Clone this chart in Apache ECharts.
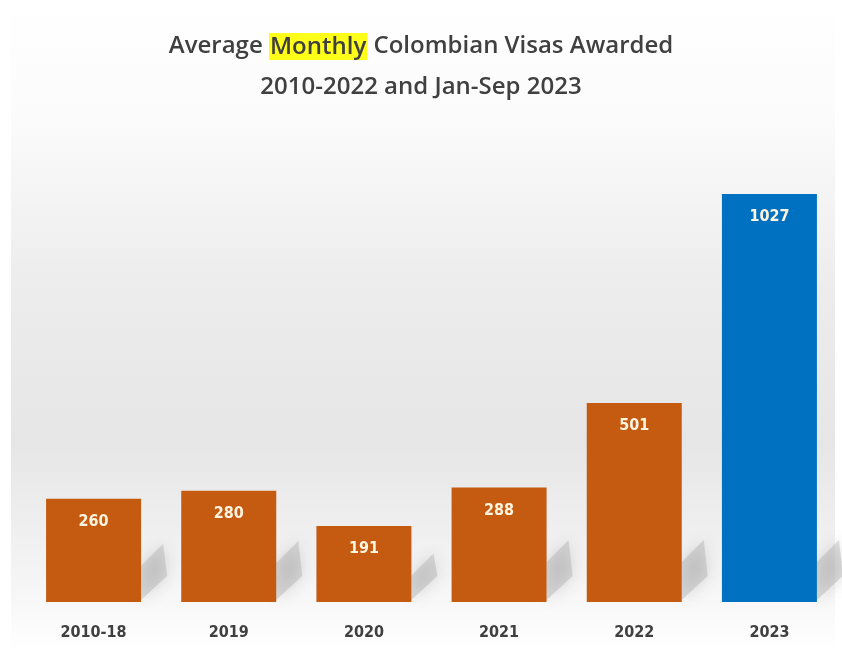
<!DOCTYPE html>
<html>
<head>
<meta charset="utf-8">
<script src="https://cdn.jsdelivr.net/npm/echarts@6/dist/echarts.min.js"></script>
<style>html,body{margin:0;padding:0;background:#fff}#c{width:842px;height:652px}</style>
</head>
<body>
<div id="c"></div>
<script>
const categories = ['2010-18', '2019', '2020', '2021', '2022', '2023'];
const values = [260, 280, 191, 288, 501, 1027];
const barColors = ['#C55A11', '#C55A11', '#C55A11', '#C55A11', '#C55A11', '#0070C0'];

const chart = echarts.init(document.getElementById('c'));
const labelFont = '"Liberation Sans Narrow","DejaVu Sans Condensed","Roboto",sans-serif';

chart.setOption({
  animation: false,
  backgroundColor: '#ffffff',
  graphic: [{
    type: 'rect', z: -10, silent: true,
    shape: { x: 11, y: 0, width: 824, height: 652 },
    style: {
      fill: new echarts.graphic.LinearGradient(0, 0, 0, 1, [
        { offset: 0, color: '#ffffff' },
        { offset: 0.18, color: '#fbfbfb' },
        { offset: 0.45, color: '#ececec' },
        { offset: 0.68, color: '#e6e6e6' },
        { offset: 0.88, color: '#f4f4f4' },
        { offset: 1, color: '#ffffff' }
      ])
    }
  }],
  title: {
    left: 'center', top: 21,
    text: 'Average {hl|Monthly} Colombian Visas Awarded\n2010-2022 and Jan-Sep 2023',
    textStyle: {
      fontFamily: '"Open Sans",sans-serif', fontSize: 24, fontWeight: 600,
      color: '#404040', lineHeight: 41,
      rich: {
        hl: { fontFamily: '"Open Sans",sans-serif', fontSize: 24, fontWeight: 600,
              color: '#404040', backgroundColor: '#FFFF1A', padding: [2, 1, 1, 1], lineHeight: 41 }
      }
    }
  },
  grid: { left: 26, right: 5, top: 165, bottom: 50 },
  xAxis: {
    type: 'category', data: categories,
    axisLine: { show: false }, axisTick: { show: false },
    axisLabel: { color: '#404040', fontFamily: labelFont, fontSize: 16, fontWeight: 'bold', margin: 23 }
  },
  yAxis: {
    type: 'value', min: 0, max: 1100, show: false,
    splitLine: { show: false }
  },
  series: [
    {
      type: 'custom', z: 1, silent: true,
      data: values.map((v, i) => [i, v]),
      renderItem: function (params, api) {
        const top = api.coord([api.value(0), api.value(1)]);
        const base = api.coord([api.value(0), 0]);
        const bw = api.size([1, 0])[0] * 0.703;
        const xr = top[0] + bw / 2;
        const h = base[1] - top[1];
        const s = Math.min(h * 0.35, 40);
        return {
          type: 'polygon',
          shape: { points: [[xr, base[1] - 2], [xr, base[1] - s], [xr + 22, base[1] - s - 22], [xr + 26, base[1] - 26]] },
          style: { fill: 'rgba(160,160,160,0.35)', shadowBlur: 16, shadowColor: 'rgba(110,110,110,0.7)' }
        };
      }
    },
    {
      type: 'bar', z: 2,
      data: values.map((v, i) => ({ value: v, itemStyle: { color: barColors[i] } })),
      barWidth: 95,
      label: {
        show: true, position: 'insideTop', distance: 15,
        color: '#FFF4DF', fontFamily: labelFont, fontSize: 16, fontWeight: 'bold'
      }
    }
  ]
});
</script>
</body>
</html>
